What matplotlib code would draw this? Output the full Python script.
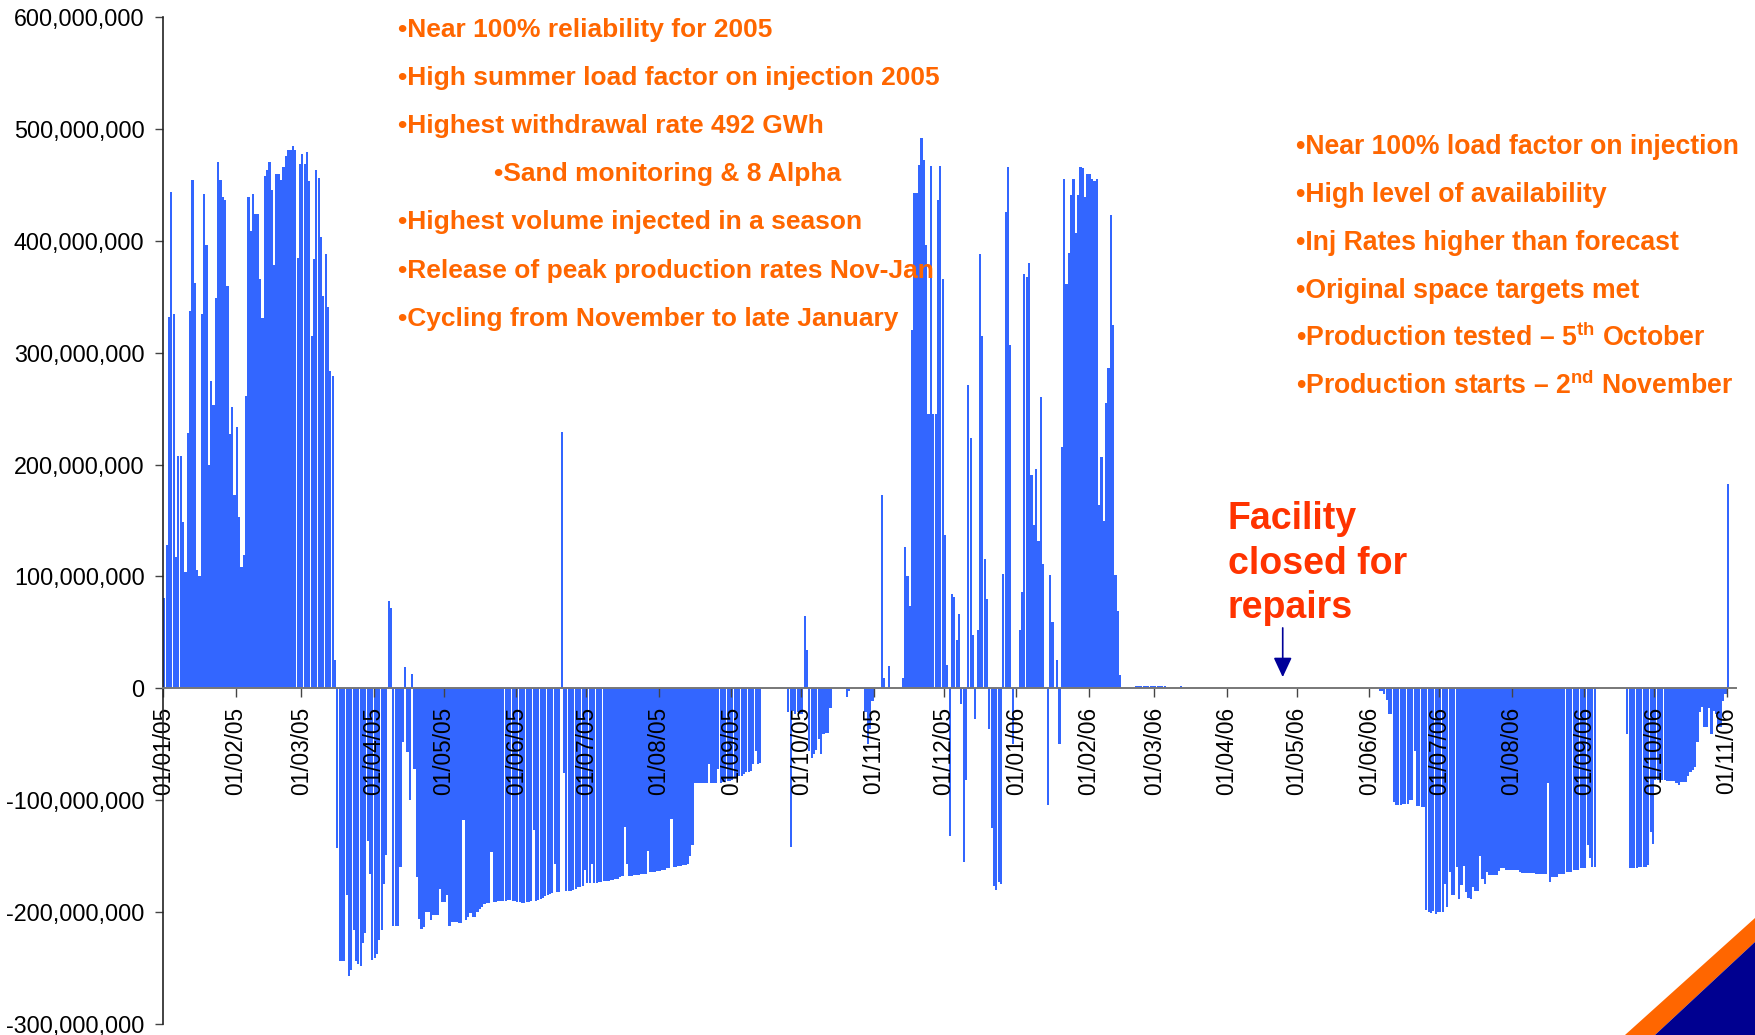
import matplotlib
matplotlib.use("Agg")
import matplotlib.pyplot as plt
import matplotlib.dates as mdates
from matplotlib.patches import Polygon
from matplotlib.ticker import FuncFormatter, MultipleLocator
import numpy as np
import pandas as pd

plt.rcParams["font.family"] = ["Liberation Sans", "DejaVu Sans"]
plt.rcParams["mathtext.fontset"] = "custom"
plt.rcParams["mathtext.rm"] = "Liberation Sans"
plt.rcParams["mathtext.bf"] = "Liberation Sans:bold"

# daily net flow in millions (positive = withdrawal, negative = injection)
jan05 = [81, 128, 332, 444, 335, 117, 208, 208, 149, 104, 228, 337, 454, 362, 106, 100,
         335, 442, 396, 200, 275, 253, 349, 470, 454, 439, 436, 360, 227, 251, 173]
feb05 = [234, 153, 108, 119, 261, 439, 409, 442, 424, 424, 366, 331, 458, 463, 470, 445,
         378, 460, 460, 454, 466, 476, 481, 481, 485, 481, 385, 469]
mar05 = [478, 469, 479, 453, 315, 384, 463, 456, 403, 351, 388, 341, 284, 279, 25,
         -143, -244, -244, -244, -185, -257, -252, -216, -244, -246, -248, -228, -219,
         -136, -166, -243]
apr05 = [-241, -237, -225, -216, -175, -149, 78, 72, -212, -212, -212, -160, -48, 19, -57,
         -100, 13, -72, -169, -206, -215, -213, -200, -200, -207, -203, -203, -203, -179, -191]
may05 = [-191, -185, -212, -209, -209, -209, -210, -210, -118, -207, -204, -201, -204, -204,
         -200, -197, -195, -193, -192, -192, -146, -191, -191, -190, -190, -190, -190, -189,
         -189, -190, -190]
jun05 = [-191, -191, -192, -192, -191, -191, -190, -127, -190, -189, -188, -187, -186, -185,
         -184, -183, -157, -182, -182, 229, -76, -181, -181, -181, -180, -179, -178, -178,
         -177, -162]
jul05 = [-174, -174, -157, -174, -174, -173, -173, -172, -172, -172, -171, -171, -170, -170,
         -169, -168, -124, -157, -168, -168, -167, -167, -167, -166, -166, -166, -145, -164,
         -164, -164, -163]
aug05 = [-163, -162, -162, -161, -161, -117, -160, -160, -159, -159, -158, -158, -157, -150,
         -140, -85, -85, -85, -85, -85, -85, -68, -85, -85, -85, -72, -85, -84, -84, -83, -83]
sep05 = [-82, -80, -79, -78, -78, -77, -75, -75, -74, -68, -56, -68, -67,
         0, 0, 0, 0, 0, 0, 0, 0, 0, 0, 0, -21, -142, -20, -23, -21, -23]
oct05 = [-23, 65, 34, -56, -62, -59, -55, -45, -59, -41, -40, -40, -18, 0, 0, 0, 0, 0, 0,
         -8, -2, 0, 0, 0, 0, 0, 0, -21, -50, -36, -11]
nov05 = [0, 0, 0, 173, 9, 0, 20, 0, 0, 0, 0, 0, 9, 126, 100, 74, 320, 443, 443, 468, 492,
         472, 396, 245, 467, 245, 245, 436, 467, 366]
dec05 = [137, 21, -132, 84, 82, 43, 66, -14, -155, -82, 271, 224, 48, -27, 52, 388, 315,
         116, 80, -36, -125, -177, -180, -173, -175, 102, 426, 466, 307, -50, 0]
jan06 = [0, 52, 86, 370, 368, 380, 191, 146, 196, 132, 260, 111, 0, -104, 101, 59, 0, 25,
         -50, 216, 455, 361, 389, 441, 455, 407, 441, 466, 465, 439, 460]
feb06 = [460, 455, 453, 455, 164, 207, 150, 255, 286, 423, 325, 101, 69, 12,
         0, 0, 0, 0, 0, 0, 2, 2, 2, 2, 2, 2, 2, 2]
mar06 = [2, 2, 2, 2, 2, 0, 0, 0, 0, 0, 0, 2] + [0] * 19
apr06 = [0] * 30   # facility closed for repairs
may06 = [0] * 31
jun06 = [0, 0, 0, 0, -2, -2, -5, -10, -23, -23, -102, -104, -104, -104, -103, -103, -103,
         -100, -100, -56, -105, -105, -106, -106, -198, -200, -201, -199, -202, -200]
jul06 = [-200, -200, -175, -195, -164, -185, -185, -160, -188, -176, -159, -182, -187, -188,
         -178, -181, -181, -150, -170, -175, -164, -167, -167, -167, -167, -163, -161, -161,
         -162, -162, -162]
aug06 = [-162, -162, -162, -164, -165, -165, -165, -165, -165, -165, -166, -166, -166, -166,
         -166, -85, -173, -169, -169, -169, -166, -166, -166, -164, -164, -164, -162, -162,
         -162, -161, -161]
sep06 = [-161, -140, -152, -160, -160, 0, 0, 0, 0, 0, 0, 0, 0, 0, 0, 0, 0, 0,
         -41, -161, -161, -161, -161, -160, -160, -160, -160, -158, -128, -139]
oct06 = [-82, -82, -82, -82, -82, -83, -83, -83, -83, -85, -86, -84, -84, -84, -78, -75,
         -73, -70, -48, -21, -17, -35, -35, -18, -41, -20, -23, -35, -35, -11, -5]
nov06 = [183]

months = [jan05, feb05, mar05, apr05, may05, jun05, jul05, aug05, sep05, oct05, nov05, dec05,
          jan06, feb06, mar06, apr06, may06, jun06, jul06, aug06, sep06, oct06, nov06]
flow = np.concatenate(months) * 1e6
days = pd.date_range("2005-01-01", periods=len(flow), freq="D")
x = mdates.date2num(days)

notes_left = ["•Near 100% reliability for 2005",
              "•High summer load factor on injection 2005",
              "•Highest withdrawal rate 492 GWh",
              "•Sand monitoring & 8 Alpha",
              "•Highest volume injected in a season",
              "•Release of peak production rates Nov-Jan",
              "•Cycling from November to late January"]
notes_right = ["•Near 100% load factor on injection",
               "•High level of availability",
               "•Inj Rates higher than forecast",
               "•Original space targets met",
               "•Production tested – 5$^{\\mathbf{th}}$ October",
               "•Production starts – 2$^{\\mathbf{nd}}$ November"]
closed_note = ["Facility", "closed for", "repairs"]

W, H = 1755, 1035
fig = plt.figure(figsize=(W / 100, H / 100), dpi=100)
ax = fig.add_axes([163.3 / W, 1 - 1024 / H, 2.337 * 673 / W, (1024 - 17) / H])

ax.bar(x, flow, width=0.93, align="edge", color="#3366FF", linewidth=0, zorder=1)
ax.set_xlim(x[0], x[0] + 673)
ax.set_ylim(-300e6, 600e6)

ax.xaxis.set_major_locator(mdates.MonthLocator())
ax.xaxis.set_major_formatter(mdates.DateFormatter("%d/%m/%y"))
ax.yaxis.set_major_locator(MultipleLocator(100e6))
ax.yaxis.set_major_formatter(FuncFormatter(lambda v, p: f"{v:,.0f}"))

for s in ["top", "right"]:
    ax.spines[s].set_visible(False)
ax.spines["bottom"].set_position(("data", 0))
ax.spines["bottom"].set_color("#777777")
ax.spines["bottom"].set_linewidth(1.4)
ax.spines["left"].set_color("#222222")
ax.spines["left"].set_linewidth(1.2)

ax.tick_params(axis="x", direction="out", length=6.5, width=1, color="#444444",
               labelsize=16.3, labelrotation=90, pad=7)
ax.tick_params(axis="y", direction="out", length=5.5, width=1, color="#444444",
               labelsize=16.8, pad=8)

orange = "#FF6600"
for i, s in enumerate(notes_left):
    xx = 493.6 if i == 3 else 398.5
    fig.text(xx / W, 1 - (37 + 48.1 * i) / H, s, color=orange, fontsize=19,
             fontweight="bold", va="baseline")
for i, s in enumerate(notes_right):
    fig.text(1296 / W, 1 - (153.5 + 48.1 * i) / H, s, color=orange, fontsize=19.2,
             fontweight="bold", va="baseline")
for i, s in enumerate(closed_note):
    fig.text(1228 / W, 1 - (529 + 44.7 * i) / H, s, color="#FF3300", fontsize=27,
             fontweight="bold", va="baseline")

arrow_x = mdates.date2num(pd.Timestamp("2006-04-25"))
ax.annotate("", xy=(arrow_x, 10e6), xytext=(arrow_x, 54e6),
            arrowprops=dict(arrowstyle="-|>,head_length=0.6,head_width=0.28",
                            color="#000099", lw=1.2, shrinkA=0, shrinkB=0,
                            mutation_scale=20))

# slide corner decoration
def px(pts):
    return [(a / W, 1 - b / H) for a, b in pts]

fig.add_artist(Polygon(px([(1625, 1035), (1755, 918), (1755, 942), (1655, 1035)]),
                       closed=True, transform=fig.transFigure, color=orange, lw=0))
fig.add_artist(Polygon(px([(1655, 1035), (1755, 942), (1755, 1035)]),
                       closed=True, transform=fig.transFigure, color="#000090", lw=0))

fig.savefig("out.png", dpi=100)
